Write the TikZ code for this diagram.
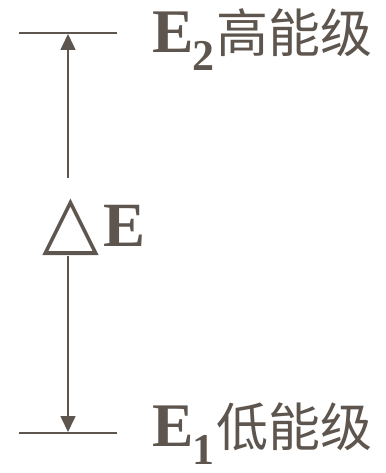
\documentclass[tikz,border=0pt]{standalone}
\usepackage{fontspec}
\setmainfont{Liberation Serif}
\newfontfamily\cjkfont{Noto Sans CJK SC}
\newfontfamily\symfont{DejaVu Sans}
\usetikzlibrary{arrows.meta}

\definecolor{levelgray}{RGB}{94,86,78}

\newcommand{\lvlE}[1]{{\fontsize{62}{64}\selectfont\bfseries E\hspace{-1pt}\raisebox{-18pt}{\fontsize{44}{46}\selectfont #1}}}

\begin{document}
\begin{tikzpicture}[
	x=1pt,
	y=-1pt,
	level/.style={
		draw=levelgray,
		line width=1.6pt
	},
	gap/.style={
		draw=levelgray,
		line width=1.6pt,
		-{Triangle[width=15pt,length=16pt]}
	},
	label/.style={
		text=levelgray,
		inner sep=0pt,
		anchor=base west
	}
	]
	\useasboundingbox (0,0) rectangle (385,473);

	% energy levels
	\coordinate (hiL) at (19,33);
	\coordinate (hiR) at (117,33);
	\coordinate (loL) at (19,433);
	\coordinate (loR) at (117,433);
	\draw[level] (hiL) -- (hiR);
	\draw[level] (loL) -- (loR);

	% level names
	\node[label] (hi) at (152,53) {\lvlE{2}\hspace{2pt}{\cjkfont\fontsize{52}{54}\selectfont 高能级}};
	\node[label] (lo) at (152,446) {\lvlE{1}\hspace{2pt}{\cjkfont\fontsize{52}{54}\selectfont 低能级}};

	% energy gap
	\node[label] (dE) at (42,246) {{\symfont\fontsize{74}{76}\selectfont △}\hspace{4pt}{\fontsize{63}{65}\selectfont\bfseries E}};
	\coordinate (upS) at (68,178);
	\coordinate (upT) at (68,34);
	\coordinate (dnS) at (68,256);
	\coordinate (dnT) at (68,432);
	\draw[gap] (upS) -- (upT);
	\draw[gap] (dnS) -- (dnT);
\end{tikzpicture}
\end{document}
